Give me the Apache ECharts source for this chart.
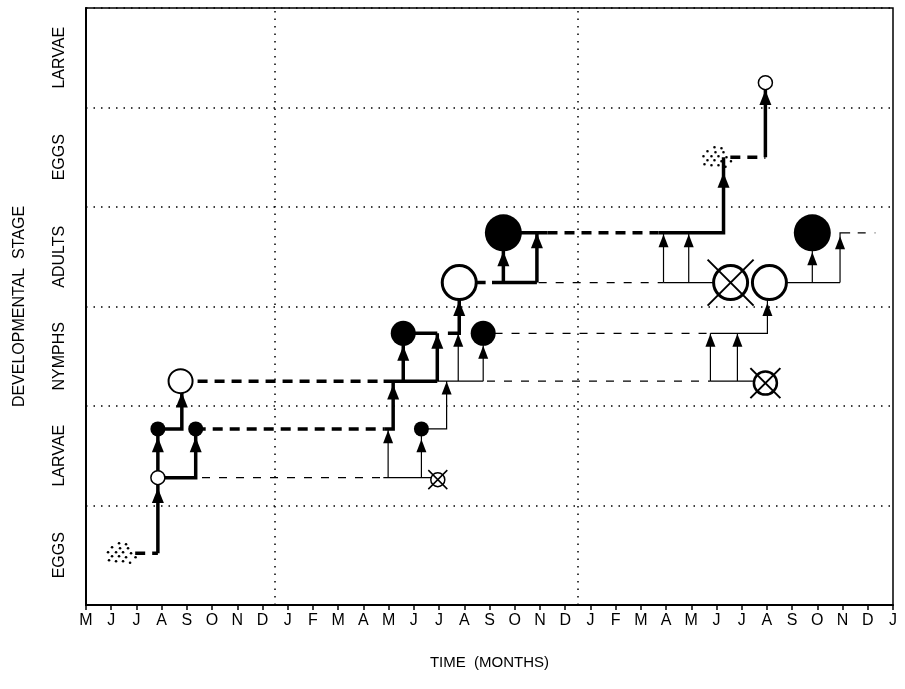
<!DOCTYPE html>
<html>
<head>
<meta charset="utf-8">
<script src="https://cdn.jsdelivr.net/npm/echarts@6/dist/echarts.min.js"></script>
<style>
  html, body { margin: 0; padding: 0; background: #fff; }
  #chart { width: 905px; height: 689px; }
</style>
</head>
<body>
<div id="chart"></div>
<script>
// month ticks, May of year 1 to January of year 4
var months = ['M','J','J','A','S','O','N','D','J','F','M','A','M','J','J','A','S','O','N','D',
              'J','F','M','A','M','J','J','A','S','O','N','D','J'];
var stages = ['EGGS', 'LARVAE', 'NYMPHS', 'ADULTS', 'EGGS', 'LARVAE'];
var yearEnds = [7.5, 19.5];

// paths: [month, stage level]
var thickSolid = [
    [[2.85, 0.52], [2.85, 1.28]],
    [[2.85, 1.28], [2.85, 1.77]],
    [[2.85, 1.28], [4.35, 1.28], [4.35, 1.77]],
    [[2.85, 1.77], [3.8, 1.77], [3.8, 2.25]],
    [[11.85, 1.77], [12.18, 1.77], [12.18, 2.25]],
    [[11.8, 2.25], [13.93, 2.25]],
    [[12.58, 2.25], [12.58, 2.73]],
    [[13.93, 2.25], [13.93, 2.73]],
    [[12.58, 2.73], [13.93, 2.73]],
    [[14.35, 2.73], [14.8, 2.73], [14.8, 3.24]],
    [[16.1, 3.24], [17.88, 3.24]],
    [[16.55, 3.24], [16.55, 3.74]],
    [[17.88, 3.24], [17.88, 3.74]],
    [[16.55, 3.74], [18.3, 3.74]],
    [[22.7, 3.74], [25.28, 3.74], [25.28, 4.5]],
    [[26.94, 4.5], [26.94, 5.25]]
];
var thickDashed = [
    [[1.95, 0.52], [2.85, 0.52]],
    [[4.35, 1.77], [11.85, 1.77]],
    [[3.75, 2.25], [11.8, 2.25]],
    [[15.45, 3.24], [16.1, 3.24]],
    [[18.3, 3.74], [22.7, 3.74]],
    [[25.55, 4.5], [26.94, 4.5]]
];
var thinSolid = [
    [[11.79, 1.28], [13.95, 1.28]],
    [[11.98, 1.28], [11.98, 1.77]],
    [[13.3, 1.28], [13.3, 1.77]],
    [[13.3, 1.77], [14.3, 1.77], [14.3, 2.25]],
    [[13.93, 2.25], [15.75, 2.25]],
    [[14.76, 2.25], [14.76, 2.73]],
    [[15.75, 2.25], [15.75, 2.73]],
    [[22.9, 3.24], [25.56, 3.24]],
    [[22.9, 3.24], [22.9, 3.74]],
    [[23.9, 3.24], [23.9, 3.74]],
    [[27.1, 3.24], [29.9, 3.24]],
    [[28.8, 3.24], [28.8, 3.74]],
    [[29.9, 3.24], [29.9, 3.74], [30.3, 3.74]],
    [[24.76, 2.73], [27.02, 2.73], [27.02, 3.24]],
    [[24.76, 2.25], [26.94, 2.25]],
    [[24.76, 2.25], [24.76, 2.73]],
    [[25.83, 2.25], [25.83, 2.73]]
];
var thinDashed = [
    [[4.6, 1.28], [11.79, 1.28]],
    [[16.2, 2.73], [24.76, 2.73]],
    [[15.9, 2.25], [24.76, 2.25]],
    [[17.95, 3.24], [22.9, 3.24]],
    [[30.6, 3.74], [31.3, 3.74]]
];

// arrowheads
var thickArrows = [[2.85, 1.1], [2.85, 1.61], [4.35, 1.61], [3.8, 2.06], [12.18, 2.14],
                   [12.58, 2.53], [13.93, 2.65], [14.8, 2.98], [16.55, 3.48], [17.88, 3.66],
                   [25.28, 4.27], [26.94, 5.1]];
var thinArrows = [[11.98, 1.69], [13.3, 1.6], [14.3, 2.18], [14.76, 2.66], [15.75, 2.54],
                  [22.9, 3.66], [23.9, 3.66], [28.8, 3.48], [29.9, 3.64], [27.02, 2.97],
                  [24.76, 2.66], [25.83, 2.66]];

// life stages found
var openSmall = [[2.85, 1.28], [26.94, 5.25]];
var filledSmall = [[2.85, 1.77], [4.35, 1.77], [13.3, 1.77]];
var openMedium = [[3.75, 2.25]];
var filledMedium = [[12.58, 2.73], [15.75, 2.73]];
var openLarge = [[14.8, 3.24], [27.1, 3.24]];
var filledLarge = [[16.55, 3.74], [28.8, 3.74]];
var deadLarvae = [[13.95, 1.26]];
var deadNymphs = [[26.94, 2.23]];
var deadAdults = [[25.56, 3.24]];
var eggMasses = [[1.43, 0.52], [25.04, 4.5]];

// egg cluster glyph: dot offsets in pixels inside a 30 x 22 box
var eggDots = [[12, 1], [19, 2], [5, 5], [13, 6], [21, 6], [1, 10], [9, 10], [16, 10],
               [24, 11], [5, 14], [12, 14], [19, 15], [28.5, 15], [2, 18], [9, 19],
               [16, 19], [23, 20.5]];
var crossPath = 'path://M0,0L10,10M10,0L0,10';

function flatten(paths) {
    var out = [];
    paths.forEach(function (p, i) {
        if (i > 0) out.push(['-', '-']);
        p.forEach(function (pt) { out.push(pt); });
    });
    return out;
}

function lineSeries(paths, width, dash) {
    return {
        type: 'line',
        yAxisIndex: 1,
        data: flatten(paths),
        symbol: 'none',
        connectNulls: false,
        silent: true,
        lineStyle: { color: '#000', width: width, type: dash || 'solid', cap: 'butt', join: 'miter' },
        z: 3
    };
}

function markSeries(data, symbol, size, fill, border, z) {
    return {
        type: 'scatter',
        yAxisIndex: 1,
        data: data,
        symbol: symbol,
        symbolSize: size,
        symbolKeepAspect: true,
        silent: true,
        itemStyle: { color: fill, borderColor: '#000', borderWidth: border, opacity: 1 },
        z: z
    };
}

var chart = echarts.init(document.getElementById('chart'));
var font = "'Liberation Sans', Arial, sans-serif";

chart.setOption({
    animation: false,
    backgroundColor: '#fff',
    grid: {
        left: 86, right: 12, top: 8, bottom: 84,
        show: true, borderColor: '#000', borderWidth: 1.5
    },
    xAxis: {
        type: 'value',
        min: 0, max: 32, interval: 1,
        name: 'TIME  (MONTHS)',
        nameLocation: 'middle',
        nameGap: 50,
        nameTextStyle: { fontFamily: font, fontSize: 15, color: '#000' },
        axisLine: { lineStyle: { color: '#000', width: 2 } },
        axisTick: { length: 5, lineStyle: { color: '#000', width: 1.5 } },
        axisLabel: {
            margin: 8, fontFamily: font, fontSize: 16, color: '#000',
            formatter: function (v) { return months[v] || ''; }
        },
        splitLine: { show: false }
    },
    yAxis: [{
        type: 'category',
        data: stages,
        boundaryGap: true,
        name: 'DEVELOPMENTAL  STAGE',
        nameLocation: 'middle',
        nameGap: 58,
        nameTextStyle: { fontFamily: font, fontSize: 16, color: '#000' },
        axisLine: { lineStyle: { color: '#000', width: 2 } },
        axisTick: { length: 6, lineStyle: { color: '#000', width: 1.5 } },
        axisLabel: { rotate: 90, margin: 18, fontFamily: font, fontSize: 16, color: '#000' },
        splitLine: { show: true, lineStyle: { color: '#000', width: 1.5, type: [1.5, 6] } }
    }, {
        type: 'value',
        min: 0, max: 6,
        show: false
    }],
    series: [
        {
            type: 'line',
            yAxisIndex: 1,
            data: [],
            markLine: {
                silent: true,
                symbol: 'none',
                label: { show: false },
                lineStyle: { color: '#000', width: 1.5, type: [1.5, 6] },
                data: yearEnds.map(function (x) { return { xAxis: x }; })
            }
        },
        lineSeries(thinDashed, 1.2, [8, 9]),
        lineSeries(thinSolid, 1.2),
        lineSeries(thickDashed, 3.5, [10, 7]),
        lineSeries(thickSolid, 3.5),
        markSeries(thickArrows, 'triangle', [12, 15], '#000', 0, 5),
        markSeries(thinArrows, 'triangle', [10, 13], '#000', 0, 5),
        markSeries(openSmall, 'circle', 14, '#fff', 1.5, 6),
        markSeries(filledSmall, 'circle', 15, '#000', 0, 6),
        markSeries(openMedium, 'circle', 24, '#fff', 2, 6),
        markSeries(filledMedium, 'circle', 25, '#000', 0, 6),
        markSeries(openLarge, 'circle', 34, '#fff', 3, 6),
        markSeries(filledLarge, 'circle', 37, '#000', 0, 6),
        markSeries(deadLarvae, 'circle', 14, '#fff', 1.5, 6),
        markSeries(deadLarvae, crossPath, 19, 'none', 1.5, 7),
        markSeries(deadNymphs, 'circle', 23, '#fff', 2.5, 6),
        markSeries(deadNymphs, crossPath, 30, 'none', 2, 7),
        markSeries(deadAdults, 'circle', 34, '#fff', 3, 6),
        markSeries(deadAdults, crossPath, 46, 'none', 2, 7),
        {
            type: 'custom',
            yAxisIndex: 1,
            data: eggMasses,
            silent: true,
            z: 6,
            renderItem: function (params, api) {
                var c = api.coord([api.value(0), api.value(1)]);
                return {
                    type: 'group',
                    children: eggDots.map(function (d) {
                        return {
                            type: 'circle',
                            shape: { cx: c[0] + d[0] - 15, cy: c[1] + d[1] - 11, r: 1.3 },
                            style: { fill: '#000' }
                        };
                    })
                };
            }
        }
    ]
});
</script>
</body>
</html>
